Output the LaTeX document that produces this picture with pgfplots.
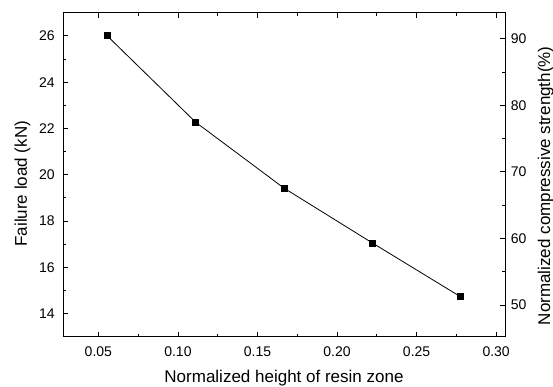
\documentclass[border=0pt]{standalone}
\usepackage{fontspec}
\setmainfont{Liberation Sans}
\usepackage{pgfplots}
\pgfplotsset{compat=1.18}
\begin{document}
\begin{tikzpicture}
\useasboundingbox (-63pt,-49.3pt) rectangle (490pt,336.7pt);
\pgfplotsset{every axis/.append style={
  tick label style={font=\fontsize{14}{16}\selectfont},
  label style={font=\fontsize{17}{19}\selectfont},
  /pgf/number format/assume math mode=true,
  tick style={black, line width=0.8pt}, major tick length=5pt, minor tick length=3pt,
  axis line style={line width=0.9pt}}}
\begin{axis}[
  at={(0,0)}, anchor=south west,
  scale only axis, width=442pt, height=324pt,
  xmin=0.02778, xmax=0.30556, ymin=13, ymax=27,
  xtick={0.05,0.10,0.15,0.20,0.25,0.30},
  xticklabel style={anchor=base, yshift=-20pt, /pgf/number format/.cd, fixed, fixed zerofill, precision=2},
  yticklabel style={xshift=-4.7pt},
  minor x tick num=1,
  ytick={14,16,18,20,22,24,26}, minor y tick num=1,
  ytick pos=left, xtick pos=both,
  xlabel={Normalized height of resin zone},
  ylabel={Failure load (kN)},
  xlabel style={at={(axis description cs:0.5,0)}, anchor=base, yshift=-45.6pt},
  ylabel style={at={(axis description cs:0,0.5)}, anchor=base, yshift=36pt, xshift=-9pt},
]
\addplot[black, line width=0.8pt, mark=square*, mark size=3pt] coordinates {
(0.05556,26.0) (0.11111,22.27) (0.16667,19.42) (0.22222,17.05) (0.27778,14.72)
};
\end{axis}
\begin{axis}[
  at={(0,0)}, anchor=south west,
  scale only axis, width=442pt, height=324pt,
  xmin=0.02778, xmax=0.30556, ymin=45.25, ymax=93.9,
  axis x line=none, axis y line*=right,
  ytick={50,60,70,80,90}, minor y tick num=1,
  yticklabel style={xshift=2.4pt},
  ylabel={Normalized compressive strength(\%)},
  ylabel style={at={(axis description cs:1,0.5)}, anchor=base, yshift=-45pt, xshift=-11pt},
]
\addplot[draw=none] coordinates {(0.1,60)};
\end{axis}
\end{tikzpicture}
\end{document}
